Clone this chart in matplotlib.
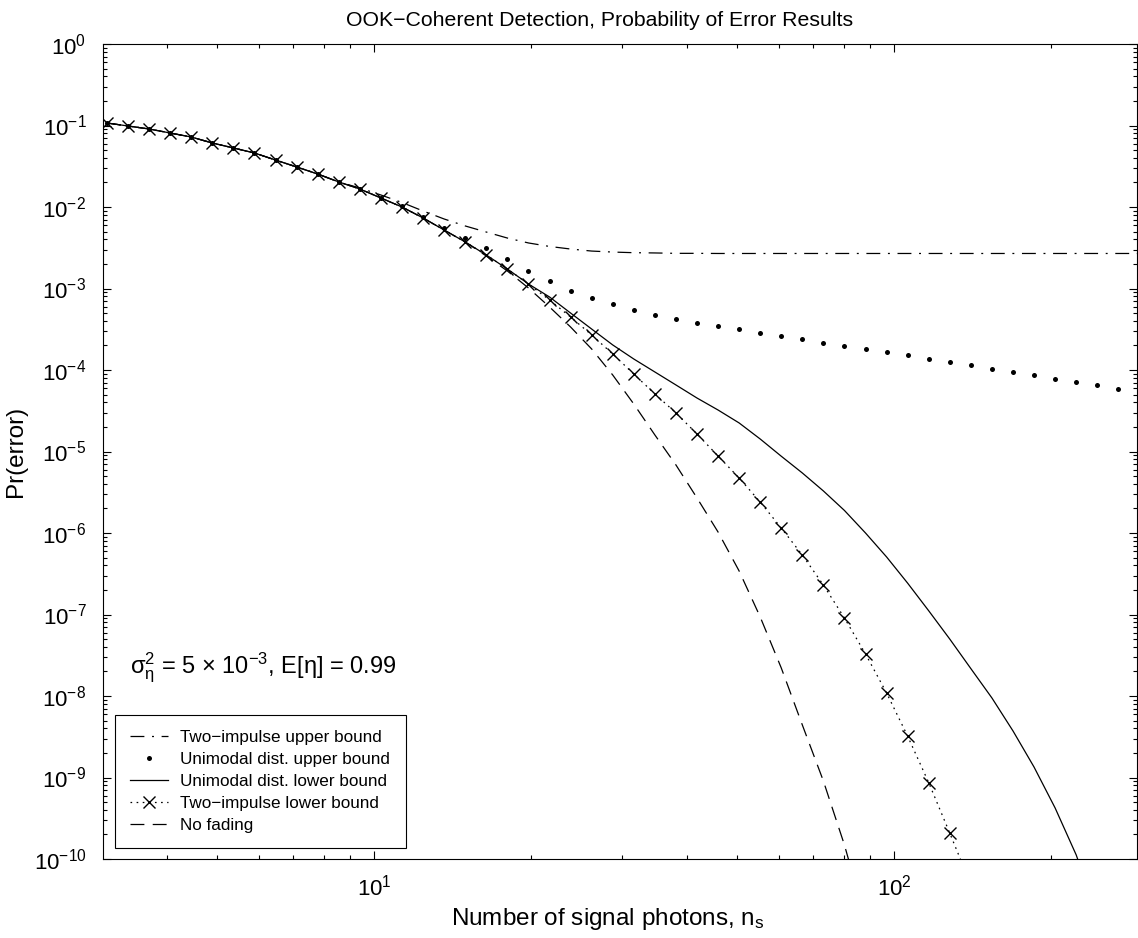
import matplotlib
matplotlib.use('Agg')
import matplotlib.pyplot as plt
from matplotlib.ticker import FixedLocator, LogLocator, NullFormatter

plt.rcParams['font.family'] = ['Liberation Sans', 'DejaVu Sans']
plt.rcParams['mathtext.fontset'] = 'custom'
plt.rcParams['mathtext.rm'] = 'Liberation Sans'
plt.rcParams['mathtext.it'] = 'Liberation Sans:italic'
plt.rcParams['mathtext.default'] = 'regular'
plt.rcParams['lines.scale_dashes'] = False

# ---------------- data ----------------
n_s = [3.066, 3.366, 3.694, 4.056, 4.452, 4.888, 5.366, 5.890, 6.466, 7.098,
       7.792, 8.555, 9.392, 10.31, 11.32, 12.43, 13.64, 14.98, 16.44, 18.05,
       19.82, 21.76, 23.88, 26.22, 28.78, 31.59, 34.69, 38.08, 41.80, 45.88,
       50.37, 55.30, 60.70, 66.64, 73.15, 80.30, 88.15, 96.78, 106.2, 116.7,
       128.0, 140.6, 154.3, 169.4, 185.9, 204.1, 224.1, 246.0, 270.1, 296.5]

# Two-impulse lower bound (dotted with x markers), first 42 grid points
two_imp_lower = [0.1073, 0.0986, 0.0906, 0.0809, 0.0722, 0.0610, 0.0530, 0.0460,
                 0.0377, 0.0310, 0.0254, 0.0203, 0.01663, 0.01290, 0.0100,
                 7.33e-3, 5.22e-3, 3.72e-3, 2.58e-3, 1.735e-3, 1.136e-3,
                 7.22e-4, 4.47e-4, 2.69e-4, 1.571e-4, 8.93e-5, 5.08e-5, 2.97e-5,
                 1.64e-5, 8.81e-6, 4.73e-6, 2.40e-6, 1.151e-6, 5.37e-7, 2.30e-7,
                 9.06e-8, 3.28e-8, 1.088e-8, 3.23e-9, 8.56e-10, 2.08e-10, 4.80e-11]

# Unimodal distribution upper bound (dots), all 50 grid points
unimodal_upper = [0.1073, 0.0986, 0.0906, 0.0809, 0.0722, 0.0610, 0.0530, 0.0460,
                  0.0377, 0.0310, 0.0254, 0.0203, 0.01663, 0.01290, 1.029e-2,
                  7.54e-3, 5.53e-3, 4.16e-3, 3.14e-3, 2.30e-3, 1.640e-3,
                  1.236e-3, 9.32e-4, 7.64e-4, 6.45e-4, 5.45e-4, 4.73e-4, 4.22e-4,
                  3.80e-4, 3.47e-4, 3.16e-4, 2.87e-4, 2.61e-4, 2.40e-4, 2.16e-4,
                  1.99e-4, 1.81e-4, 1.65e-4, 1.515e-4, 1.365e-4, 1.243e-4,
                  1.142e-4, 1.029e-4, 9.37e-5, 8.61e-5, 7.76e-5, 7.07e-5,
                  6.49e-5, 5.90e-5, 5.37e-5]

# Two-impulse upper bound (dash-dot), all 50 grid points
two_imp_upper = [0.1073, 0.0986, 0.0906, 0.0809, 0.0722, 0.0610, 0.0530, 0.0460,
                 0.0377, 0.0310, 0.0254, 0.0203, 0.01711, 1.404e-2, 1.136e-2,
                 8.93e-3, 7.13e-3, 5.85e-3, 4.93e-3, 4.16e-3, 3.62e-3, 3.28e-3,
                 3.05e-3, 2.88e-3, 2.80e-3, 2.75e-3, 2.73e-3, 2.70e-3, 2.70e-3,
                 2.69e-3, 2.69e-3, 2.69e-3, 2.69e-3, 2.69e-3, 2.69e-3, 2.69e-3,
                 2.69e-3, 2.69e-3, 2.69e-3, 2.69e-3, 2.69e-3, 2.69e-3, 2.69e-3,
                 2.69e-3, 2.69e-3, 2.69e-3, 2.69e-3, 2.69e-3, 2.69e-3, 2.69e-3]

# Unimodal distribution lower bound (solid), first 48 grid points
unimodal_lower = [0.1073, 0.0986, 0.0906, 0.0809, 0.0722, 0.0610, 0.0530, 0.0460,
                  0.0377, 0.0310, 0.0254, 0.0203, 0.01663, 0.01290, 0.0100,
                  7.33e-3, 5.22e-3, 3.72e-3, 2.58e-3, 1.735e-3, 1.136e-3,
                  7.86e-4, 5.00e-4, 3.18e-4, 2.03e-4, 1.365e-4, 9.45e-5, 6.55e-5,
                  4.53e-5, 3.23e-5, 2.24e-5, 1.423e-5, 8.75e-6, 5.45e-6, 3.28e-6,
                  1.89e-6, 1.00e-6, 5.08e-7, 2.43e-7, 1.104e-7, 5.00e-8, 2.16e-8,
                  9.45e-9, 3.72e-9, 1.345e-9, 4.23e-10, 1.12e-10, 2.06e-11]

# No fading (dashed), first 37 grid points
no_fading = [0.1073, 0.0986, 0.0906, 0.0809, 0.0722, 0.0610, 0.0530, 0.0460,
             0.0377, 0.0310, 0.0254, 0.0203, 0.01663, 0.01290, 0.0100,
             7.33e-3, 5.22e-3, 3.72e-3, 2.505e-3, 1.640e-3, 1.014e-3, 5.93e-4,
             3.37e-4, 1.81e-4, 8.68e-5, 3.83e-5, 1.594e-5, 6.83e-6, 2.69e-6,
             1.029e-6, 3.42e-7, 9.32e-8, 2.21e-8, 4.41e-9, 9.06e-10, 1.485e-10,
             1.79e-11]

labels = ['Two\u2212impulse upper bound', 'Unimodal dist. upper bound',
          'Unimodal dist. lower bound', 'Two\u2212impulse lower bound', 'No fading']

x_ticks = [10, 100]
y_ticks = [1e0, 1e-1, 1e-2, 1e-3, 1e-4, 1e-5, 1e-6, 1e-7, 1e-8, 1e-9, 1e-10]

title = 'OOK\u2212Coherent Detection, Probability of Error Results'
xlabel = r'Number of signal photons, n$_\mathregular{s}$'
ylabel = 'Pr(error)'
note = r'$\sigma_{\eta}^{2}$ = 5 $\times$ 10$^{-3}$, E[$\eta$] = 0.99'

# ---------------- figure ----------------
W, H = 1138, 938
fig = plt.figure(figsize=(W / 100, H / 100), dpi=100)
ax = fig.add_axes([103 / W, 1 - 859 / H, (1137 - 103) / W, (859 - 44) / H])

lw = 0.9
ax.plot(n_s[:len(two_imp_upper)], two_imp_upper, color='black', lw=lw,
        linestyle=(0, (10, 5.5, 1.4, 5.5)), label=labels[0])
ax.plot(n_s[:len(unimodal_upper)], unimodal_upper, color='black', linestyle='none',
        marker='o', ms=3.6, mew=0, label=labels[1])
ax.plot(n_s[:len(unimodal_lower)], unimodal_lower, color='black', lw=lw,
        linestyle='-', label=labels[2])
ax.plot(n_s[:len(two_imp_lower)], two_imp_lower, color='black', lw=lw,
        linestyle=(0, (1.2, 3.2)), marker='x', ms=8, mew=1.0, label=labels[3])
ax.plot(n_s[:len(no_fading)], no_fading, color='black', lw=lw,
        linestyle=(0, (10, 6)), label=labels[4])

ax.set_xscale('log')
ax.set_yscale('log')
ax.set_xlim(3.012, 293.3)
ax.set_ylim(1e-10, 1)

ax.yaxis.set_major_locator(FixedLocator(y_ticks))
ax.xaxis.set_major_locator(FixedLocator(x_ticks))
ax.yaxis.set_minor_locator(LogLocator(base=10, subs=range(2, 10), numticks=200))
ax.xaxis.set_minor_locator(LogLocator(base=10, subs=range(2, 10), numticks=200))
ax.xaxis.set_minor_formatter(NullFormatter())
ax.yaxis.set_minor_formatter(NullFormatter())

fs_tick = 16
fs_label = 17.5
ax.tick_params(which='both', direction='in', top=True, right=True,
               labelsize=fs_tick, width=0.8)
ax.tick_params(which='major', length=6)
ax.tick_params(which='minor', length=3)
ax.tick_params(axis='x', which='major', pad=11)
ax.tick_params(axis='y', which='major', pad=12)
for s in ax.spines.values():
    s.set_linewidth(0.8)

ax.set_title(title, fontsize=15.3, pad=13, x=0.4807)
ax.set_xlabel(xlabel, fontsize=fs_label, labelpad=4, x=0.488)
ax.set_ylabel(ylabel, fontsize=fs_label, labelpad=5)

ax.text(0.026, 0.228, note, transform=ax.transAxes, fontsize=17,
        ha='left', va='baseline')

leg = ax.legend(loc='lower left', bbox_to_anchor=(0.0116, 0.0135),
                borderaxespad=0, fancybox=False, edgecolor='black',
                fontsize=12.3, handlelength=2.2, labelspacing=0.4,
                borderpad=0.9, handletextpad=0.72, framealpha=1)
leg.get_frame().set_linewidth(0.8)

fig.savefig('out.png', dpi=100)
